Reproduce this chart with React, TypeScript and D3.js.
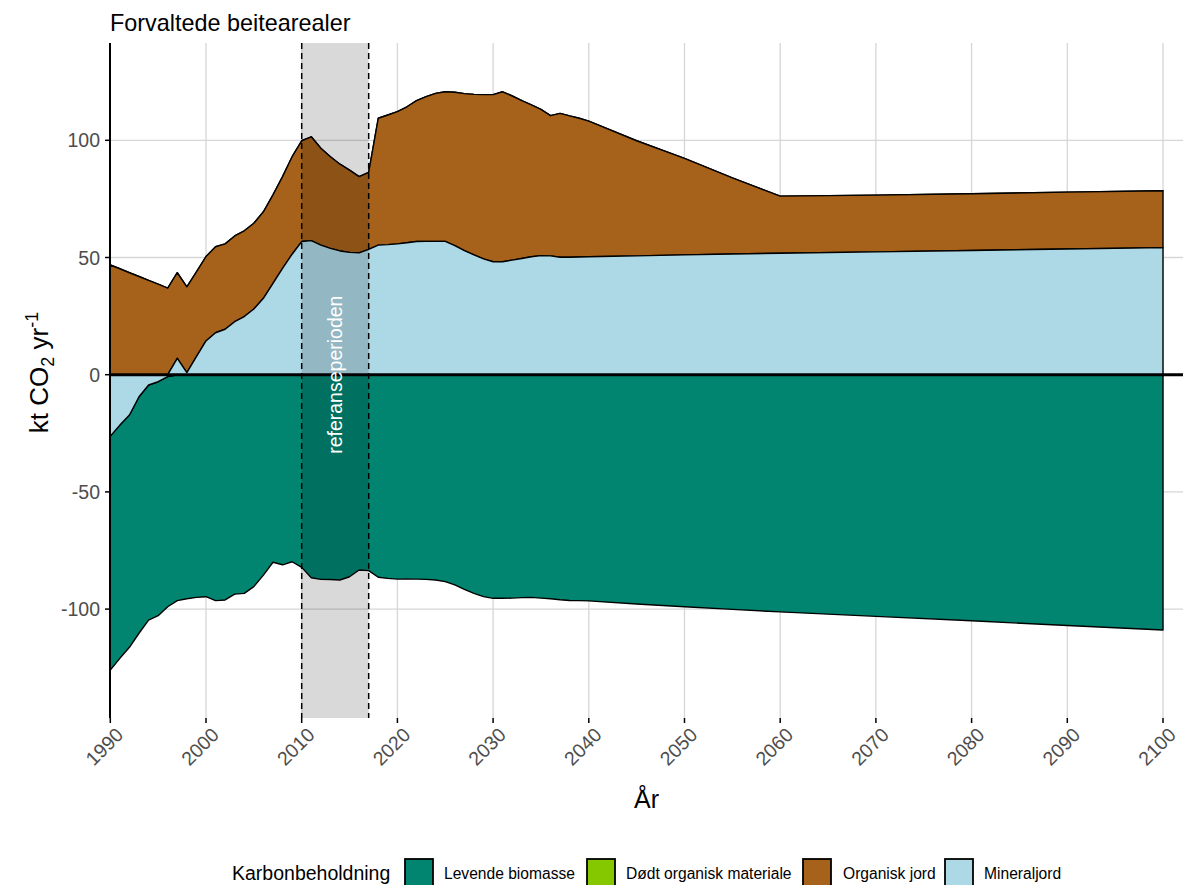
import React from "react";
import * as d3 from "d3";

const years = [
  1990, 1991, 1992, 1993, 1994, 1995, 1996, 1997, 1998, 1999,
  2000, 2001, 2002, 2003, 2004, 2005, 2006, 2007, 2008, 2009,
  2010, 2011, 2012, 2013, 2014, 2015, 2016, 2017, 2018, 2019,
  2020, 2021, 2022, 2023, 2024, 2025, 2026, 2027, 2028, 2029,
  2030, 2031, 2032, 2033, 2034, 2035, 2036, 2037, 2038, 2039,
  2040, 2045, 2050, 2055, 2060, 2070, 2080, 2090, 2100,
];

const levendeBiomasse = [
  -99.8, -99.5, -99.1, -100.9, -100.3, -99.8, -98.2, -96.4, -95.6, -95.0,
  -94.7, -96.4, -96.1, -93.6, -93.3, -90.4, -85.5, -80.0, -81.1, -79.8,
  -82.2, -86.6, -87.3, -87.4, -87.6, -86.2, -83.3, -83.6, -86.4, -86.9,
  -87.2, -87.1, -87.2, -87.3, -87.6, -88.3, -89.7, -91.6, -93.3, -94.7,
  -95.4, -95.4, -95.3, -95.1, -95.0, -95.3, -95.6, -96.0, -96.3, -96.4,
  -96.5, -97.8, -99.0, -100.1, -101.2, -103.1, -105.0, -107.0, -108.9,
];

const dodtOrganiskMateriale = [
  0, 0, 0, 0, 0, 0, 0, 0, 0, 0,
  0, 0, 0, 0, 0, 0, 0, 0, 0, 0,
  0, 0, 0, 0, 0, 0, 0, 0, 0, 0,
  0, 0, 0, 0, 0, 0, 0, 0, 0, 0,
  0, 0, 0, 0, 0, 0, 0, 0, 0, 0,
  0, 0, 0, 0, 0, 0, 0, 0, 0,
];

const organiskJord = [
  46.8, 45.2, 43.5, 41.9, 40.2, 38.6, 36.9, 36.5, 36.6, 36.2,
  36.0, 36.7, 36.4, 36.6, 36.6, 36.6, 36.9, 37.7, 39.1, 41.6,
  43.0, 44.3, 41.3, 39.1, 37.0, 35.1, 32.5, 32.8, 54.1, 55.3,
  56.4, 58.0, 60.1, 61.7, 63.1, 63.8, 65.4, 67.0, 68.5, 70.1,
  71.3, 72.5, 70.0, 67.3, 64.8, 62.4, 59.8, 61.4, 60.3, 59.2,
  57.9, 49.1, 41.2, 32.5, 24.4, 24.2, 24.2, 24.3, 24.3,
];

const mineraljord = [
  -26.2, -21.5, -17.2, -9.4, -4.4, -3.0, -0.8, 7.0, 0.9, 7.7,
  14.4, 17.9, 19.4, 22.6, 24.8, 28.0, 32.6, 39.0, 45.4, 51.4,
  56.8, 57.2, 55.3, 53.9, 52.8, 52.2, 52.0, 53.5, 55.3, 55.5,
  55.8, 56.3, 56.8, 56.9, 56.9, 56.9, 55.1, 52.9, 51.1, 49.4,
  48.2, 48.2, 48.9, 49.6, 50.3, 50.8, 50.7, 50.1, 50.1, 50.2,
  50.3, 50.7, 51.1, 51.5, 51.8, 52.4, 53.0, 53.6, 54.2,
];

const seriesNames = ["Levende biomasse", "Dødt organisk materiale", "Organisk jord", "Mineraljord"];
const seriesValues = [levendeBiomasse, dodtOrganiskMateriale, organiskJord, mineraljord];
const seriesColors = ["#018571", "#86C800", "#A6611A", "#ADD8E6"];
// stacking order, nearest to zero first
const stackOrder = [3, 2, 1, 0];

const xTicks = [1990, 2000, 2010, 2020, 2030, 2040, 2050, 2060, 2070, 2080, 2090, 2100];
const yTicks = [-100, -50, 0, 50, 100];
const refPeriod = [2010, 2017];

const W = 1183;
const H = 885;
const panel = { left: 110, right: 1183, top: 43, bottom: 718 };

export default function App() {
  const x = d3.scaleLinear().domain([1990, 2100]).range([110.3, 1163]);
  const y = d3.scaleLinear().domain([0, 100]).range([374.7, 140.3]);

  const n = years.length;
  const lower: number[][] = seriesValues.map(() => new Array(n).fill(0));
  const upper: number[][] = seriesValues.map(() => new Array(n).fill(0));
  for (let i = 0; i < n; i++) {
    let pos = 0;
    let neg = 0;
    for (const s of stackOrder) {
      const v = seriesValues[s][i];
      if (v >= 0) {
        lower[s][i] = pos;
        upper[s][i] = pos + v;
        pos += v;
      } else {
        upper[s][i] = neg;
        lower[s][i] = neg + v;
        neg += v;
      }
    }
  }

  const areaFor = (s: number) =>
    d3
      .area<number>()
      .x((i) => x(years[i]))
      .y0((i) => y(lower[s][i]))
      .y1((i) => y(upper[s][i]))(d3.range(n)) as string;

  const font = "Liberation Sans, Arial, sans-serif";

  const legendY = 873;
  const keySize = 28;
  const legendItems = [
    { keyX: 405, labelX: 444 },
    { keyX: 587, labelX: 626 },
    { keyX: 803, labelX: 843 },
    { keyX: 945, labelX: 984 },
  ];

  return (
    <svg
      width={W}
      height={H}
      style={{ position: "absolute", left: 0, top: 0, background: "#fff" }}
      fontFamily={font}
    >
      <rect x={0} y={0} width={W} height={H} fill="#fff" />
      {yTicks.map((t) => (
        <line key={"gy" + t} x1={panel.left} x2={panel.right} y1={y(t)} y2={y(t)} stroke="#d6d6d6" strokeWidth={1.3} />
      ))}
      {xTicks.map((t) => (
        <line key={"gx" + t} x1={x(t)} x2={x(t)} y1={panel.top} y2={panel.bottom} stroke="#d6d6d6" strokeWidth={1.3} />
      ))}
      {[0, 1, 2, 3].map((s) => (
        <path key={"a" + s} d={areaFor(s)} fill={seriesColors[s]} stroke="#000" strokeWidth={1.4} strokeLinejoin="round" />
      ))}
      <rect
        x={x(refPeriod[0])}
        y={panel.top}
        width={x(refPeriod[1]) - x(refPeriod[0])}
        height={panel.bottom - panel.top}
        fill="#000"
        fillOpacity={0.15}
      />
      {refPeriod.map((r) => (
        <line key={"rl" + r} x1={x(r)} x2={x(r)} y1={panel.top} y2={panel.bottom} stroke="#000" strokeWidth={1.5} strokeDasharray="6,4" />
      ))}
      <line x1={panel.left} x2={panel.right} y1={y(0)} y2={y(0)} stroke="#000" strokeWidth={3} />
      <text
        transform={`translate(${x((refPeriod[0] + refPeriod[1]) / 2)},${y(0)}) rotate(-90)`}
        textAnchor="middle"
        dominantBaseline="central"
        fill="#fff"
        fontSize={19.5}
      >
        referanseperioden
      </text>
      <line x1={panel.left} x2={panel.left} y1={panel.top} y2={panel.bottom} stroke="#000" strokeWidth={2} />
      {yTicks.map((t) => (
        <g key={"yt" + t}>
          <line x1={105} x2={panel.left} y1={y(t)} y2={y(t)} stroke="#000" strokeWidth={1.5} />
          <text x={100} y={y(t)} textAnchor="end" dominantBaseline="central" fontSize={19.5} fill="#4d4d4d">
            {t}
          </text>
        </g>
      ))}
      {xTicks.map((t) => (
        <g key={"xt" + t}>
          <line x1={x(t)} x2={x(t)} y1={panel.bottom} y2={panel.bottom + 5} stroke="#000" strokeWidth={1.5} />
          <text
            transform={`translate(${x(t) + 4},${panel.bottom + 8}) rotate(-45)`}
            textAnchor="end"
            dominantBaseline="hanging"
            fontSize={19.5}
            fill="#4d4d4d"
          >
            {t}
          </text>
        </g>
      ))}
      <text x={110} y={31} fontSize={23.4} fill="#000">
        Forvaltede beitearealer
      </text>
      <text x={(panel.left + panel.right) / 2} y={808} textAnchor="middle" fontSize={25} fill="#000">
        År
      </text>
      <text
        transform={`translate(48,${(panel.top + panel.bottom) / 2 - 8}) rotate(-90)`}
        textAnchor="middle"
        fontSize={26}
        fill="#000"
      >
        kt CO
        <tspan fontSize={18} dy={6}>2</tspan>
        <tspan dy={-6}> yr</tspan>
        <tspan fontSize={18} dy={-10}>-1</tspan>
      </text>
      <text x={232} y={legendY} dominantBaseline="central" fontSize={19.5} fill="#000">
        Karbonbeholdning
      </text>
      {seriesNames.map((name, i) => (
        <g key={"lg" + i}>
          <rect
            x={legendItems[i].keyX}
            y={legendY - keySize / 2}
            width={keySize}
            height={keySize}
            fill={seriesColors[i]}
            stroke="#000"
            strokeWidth={1.8}
          />
          <text x={legendItems[i].labelX} y={legendY} dominantBaseline="central" fontSize={15.6} fill="#000">
            {name}
          </text>
        </g>
      ))}
    </svg>
  );
}
